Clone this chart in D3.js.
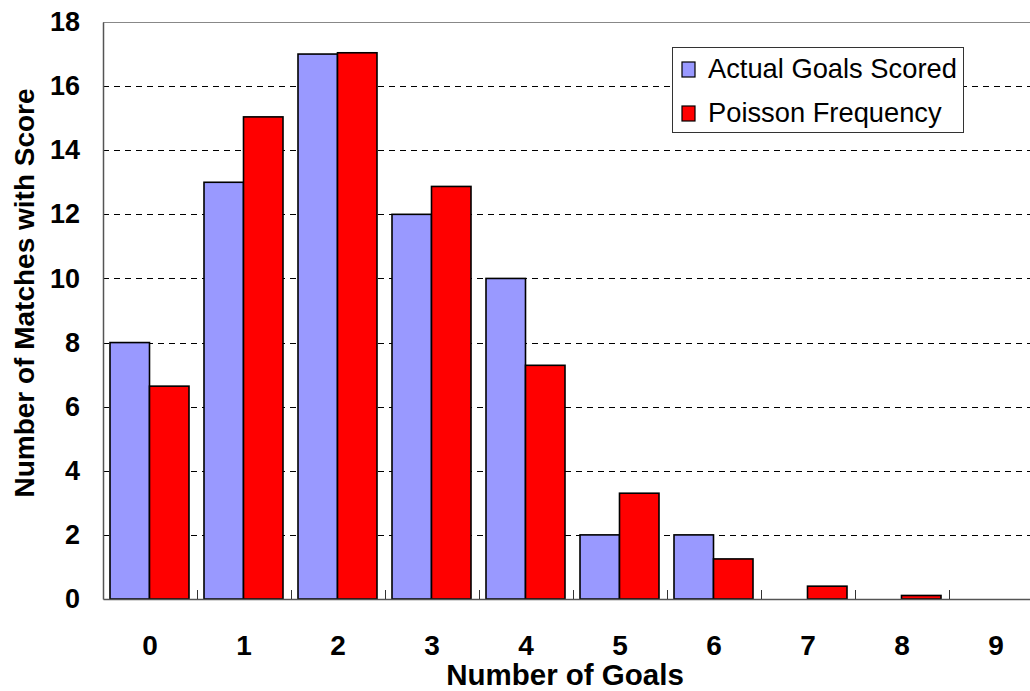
<!DOCTYPE html>
<html>
<head>
<meta charset="utf-8">
<script src="https://cdn.jsdelivr.net/npm/d3@7/dist/d3.min.js"></script>
<style>
  html, body { margin: 0; padding: 0; background: #fff; }
  svg { display: block; }
  text { font-family: "Liberation Sans", Arial, sans-serif; }
</style>
</head>
<body>
<svg id="chart" width="1030" height="691"></svg>
<script>
const categories = ["0","1","2","3","4","5","6","7","8","9"];
const seriesNames = ["Actual Goals Scored", "Poisson Frequency"];
const actualGoals = [8, 13, 17, 12, 10, 2, 2, 0, 0, 0];
const poissonFreq = [6.64, 15.04, 17.04, 12.87, 7.29, 3.30, 1.25, 0.40, 0.11, 0];
const yTicks = [0, 2, 4, 6, 8, 10, 12, 14, 16, 18];
const colors = ["#9999FF", "#FF0000"];

(function () {
const svg = d3.select("#chart");
const pLeft = 103, pTop = 22, pBottom = 599, pRight = 1043;

const x = d3.scaleBand().domain(categories).range([pLeft, pRight]).padding(0);
const xSub = d3.scaleBand().domain(seriesNames).range([7, x.bandwidth() - 8]).padding(0);
const y = d3.scaleLinear().domain([0, 18]).range([pBottom, pTop]);

svg.append("g").selectAll("line")
  .data(yTicks.filter(t => t > 0 && t < 18))
  .join("line")
  .attr("x1", pLeft).attr("x2", pRight)
  .attr("y1", d => Math.round(y(d)) + 0.5).attr("y2", d => Math.round(y(d)) + 0.5)
  .attr("stroke", "#000").attr("stroke-width", 1)
  .attr("stroke-dasharray", "6,5");

svg.append("line").attr("x1", pLeft).attr("x2", pRight)
  .attr("y1", y(18) + 0.5).attr("y2", y(18) + 0.5)
  .attr("stroke", "#888").attr("stroke-width", 1);

const data = categories.map((c, i) => ({ c, vals: [actualGoals[i], poissonFreq[i]] }));
const groups = svg.append("g").selectAll("g").data(data).join("g")
  .attr("transform", d => `translate(${x(d.c)},0)`);
groups.selectAll("rect")
  .data(d => d.vals.map((v, j) => ({ v, s: seriesNames[j], j })).filter(e => e.v > 0))
  .join("rect")
  .attr("x", e => xSub(e.s))
  .attr("width", xSub.bandwidth())
  .attr("y", e => y(e.v))
  .attr("height", e => y(0) - y(e.v))
  .attr("fill", e => colors[e.j])
  .attr("stroke", "#000").attr("stroke-width", 1.6);

const xAxis = d3.axisBottom(x).tickSize(0).tickPadding(36);
const gx = svg.append("g").attr("transform", `translate(0,${pBottom})`).call(xAxis);
gx.select(".domain").attr("stroke", "#555").attr("stroke-width", 1.5);
gx.selectAll("text").attr("font-size", 28).attr("font-weight", "bold").attr("fill", "#000");
svg.append("g").selectAll("line")
  .data(categories.slice(1))
  .join("line")
  .attr("x1", d => Math.round(x(d)) + 0.5).attr("x2", d => Math.round(x(d)) + 0.5)
  .attr("y1", pBottom).attr("y2", pBottom - 9)
  .attr("stroke", "#333").attr("stroke-width", 1);

const yAxis = d3.axisLeft(y).tickValues(yTicks).tickSize(0).tickPadding(23);
const gy = svg.append("g").attr("transform", `translate(${pLeft},0)`).call(yAxis);
gy.select(".domain").attr("stroke", "#555").attr("stroke-width", 1.5);
gy.selectAll("text").attr("font-size", 27).attr("font-weight", "bold").attr("fill", "#000");

svg.append("text").attr("x", 565).attr("y", 685)
  .attr("text-anchor", "middle").attr("font-size", 29.5).attr("font-weight", "bold")
  .text("Number of Goals");
svg.append("text").attr("transform", "translate(34,293) rotate(-90)")
  .attr("text-anchor", "middle").attr("font-size", 28).attr("font-weight", "bold")
  .text("Number of Matches with Score");

const lg = svg.append("g");
lg.append("rect").attr("x", 672.5).attr("y", 47.5).attr("width", 291).attr("height", 85)
  .attr("fill", "#fff").attr("stroke", "#333").attr("stroke-width", 1);
seriesNames.forEach((s, i) => {
  const yy = 62 + i * 44;
  lg.append("rect").attr("x", 682).attr("y", yy).attr("width", 13).attr("height", 15)
    .attr("fill", colors[i]).attr("stroke", "#000").attr("stroke-width", 1.2);
  lg.append("text").attr("x", 708).attr("y", yy + 15.5)
    .attr("font-size", 27.3).attr("fill", "#000").text(s);
});
})();
</script>
</body>
</html>
